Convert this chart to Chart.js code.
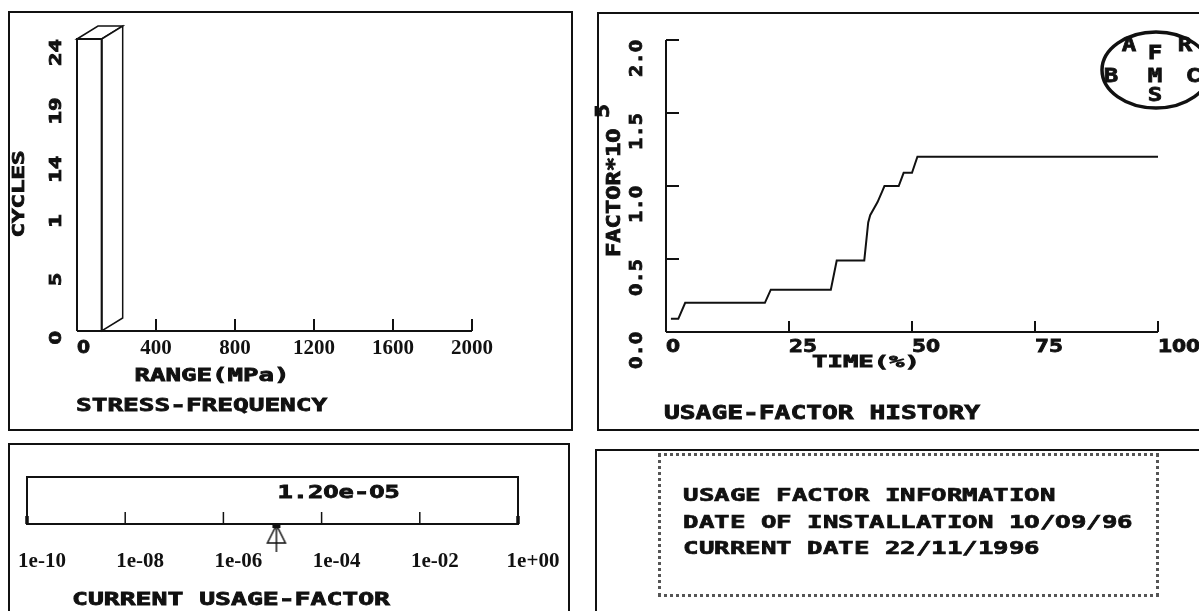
<!DOCTYPE html>
<html>
<head>
<meta charset="utf-8">
<script src="https://cdn.jsdelivr.net/npm/chart.js@4.4.0/dist/chart.umd.min.js"></script>
<style>
  html, body { margin: 0; padding: 0; background: #fff; }
  #page { position: relative; width: 1199px; height: 611px; overflow: hidden; background: #fff; }
  .panel { position: absolute; border: 2px solid #111; box-sizing: border-box; }
  .layer { position: absolute; left: 0; top: 0; }
  .dos { position: absolute; white-space: pre; font: bold 18px "DejaVu Sans Mono"; line-height: 20px;
         color: #111; -webkit-text-stroke: 0.7px #111; }
  .dos span { display: inline-block; width: 15.5px; text-align: center; transform: scaleX(1.43); }
  .dos span.z { font-family: "DejaVu Sans"; transform: scaleX(1.25); }
  #info { position: absolute; left: 658px; top: 453px; width: 501px; height: 144px;
          border: 3px dotted #555; box-sizing: border-box; }
</style>
</head>
<body>
<div id="page">
  <div class="panel" style="left:8px;top:11px;width:565px;height:420px"></div>
  <div class="panel" style="left:597px;top:12px;width:700px;height:419px"></div>
  <div class="panel" style="left:8px;top:443px;width:562px;height:300px"></div>
  <div class="panel" style="left:595px;top:449px;width:700px;height:300px"></div>
  <div id="info"></div>
  <canvas id="stress" class="layer" width="1199" height="611"></canvas>
  <canvas id="history" class="layer" width="1199" height="611"></canvas>
  <canvas id="gauge" class="layer" width="1199" height="611"></canvas>
</div>
<script>
// stress-frequency histogram
const rangeTicks = [0, 400, 800, 1200, 1600, 2000];
const cycleTicks = [0, 4.8, 9.6, 14.4, 19.2, 24];
const cycleTickLabels = ['0', '5', '1', '14', '19', '24'];
const binStart = [0];
const binEnd = [125];
const binCycles = [24];

// usage-factor history (factor * 10^5 against % of time)
const timePct = [1.0, 2.5, 3.9, 20.1, 21.3, 33.5, 34.7, 40.3, 41.1, 41.5, 43.0, 43.9, 44.4, 47.3, 48.3, 50.0, 51.1, 100];
const factorE5 = [0.09, 0.09, 0.2, 0.2, 0.29, 0.29, 0.49, 0.49, 0.75, 0.8, 0.89, 0.96, 1.0, 1.0, 1.09, 1.09, 1.2, 1.2];
const timeTicks = [0, 25, 50, 75, 100];
const factorTicks = [0, 0.5, 1.0, 1.5, 2.0];

// current usage factor gauge
const gaugeTicks = [1e-10, 1e-8, 1e-6, 1e-4, 1e-2, 1];
const currentFactor = 1.2e-5;

const infoLines = ['USAGE FACTOR INFORMATION', 'DATE OF INSTALLATION 10/09/96', 'CURRENT DATE 22/11/1996'];

const INK = '#111';

function expo(v, digits) {
  const e = Math.floor(Math.log10(v) + 1e-9);
  const m = v / Math.pow(10, e);
  return m.toFixed(digits) + 'e' + (e < 0 ? '-' : '+') + String(Math.abs(e)).padStart(2, '0');
}

// old DOS screen font: heavy mono glyphs stretched to fill one wide cell each
function dosText(ctx, text, x, y, o) {
  ctx.save();
  ctx.translate(x, y);
  if (o.rot) ctx.rotate(o.rot);
  ctx.textBaseline = 'middle';
  ctx.fillStyle = INK;
  ctx.strokeStyle = INK;
  if (o.font) {
    ctx.font = o.font;
    ctx.textAlign = o.align || 'left';
    ctx.fillText(text, 0, 0);
  } else {
    ctx.textAlign = 'center';
    ctx.lineWidth = 0.8;
    const sx = o.adv / (0.602 * o.size);
    const w = text.length * o.adv;
    let x0 = o.align === 'center' ? -w / 2 : o.align === 'right' ? -w : 0;
    for (const ch of text) {
      const zero = ch === '0';
      ctx.save();
      ctx.translate(x0 + o.adv / 2, 0);
      ctx.scale(zero ? sx * 0.87 : sx, 1);
      ctx.font = 'bold ' + o.size + 'px ' + (zero ? '"DejaVu Sans"' : '"DejaVu Sans Mono"');
      ctx.fillText(ch, 0, 0);
      ctx.strokeText(ch, 0, 0);
      ctx.restore();
      x0 += o.adv;
    }
  }
  ctx.restore();
}

function line(ctx, x1, y1, x2, y2) {
  ctx.beginPath(); ctx.moveTo(x1, y1); ctx.lineTo(x2, y2); ctx.stroke();
}

function poly(ctx, pts) {
  ctx.beginPath();
  pts.forEach((p, i) => i ? ctx.lineTo(p[0], p[1]) : ctx.moveTo(p[0], p[1]));
  ctx.closePath(); ctx.fill(); ctx.stroke();
}

const common = {
  responsive: false,
  animation: false,
  events: [],
  plugins: { legend: { display: false }, tooltip: { enabled: false } }
};

// ---------- STRESS-FREQUENCY ----------
const DX = 21, DY = 13;
const barOutline = [];
binStart.forEach((s, i) => {
  barOutline.push({ x: s, y: 0 }, { x: s, y: binCycles[i] }, { x: binEnd[i], y: binCycles[i] }, { x: binEnd[i], y: 0 });
});

const stressPlugin = {
  id: 'stress',
  beforeDatasetsDraw(chart) {
    const { ctx, scales: { x, y } } = chart;
    const y0 = y.getPixelForValue(0);
    ctx.save();
    ctx.lineWidth = 2; ctx.strokeStyle = INK; ctx.fillStyle = '#fff';
    line(ctx, x.getPixelForValue(rangeTicks[0]), y0, x.getPixelForValue(rangeTicks[rangeTicks.length - 1]), y0);
    rangeTicks.slice(1).forEach(v => {
      const px = x.getPixelForValue(v);
      line(ctx, px, y0, px, y0 - 12);
    });
    ctx.lineWidth = 1.5;
    binStart.forEach((s, i) => {
      const x0 = x.getPixelForValue(s), x1 = x.getPixelForValue(binEnd[i]);
      const yt = y.getPixelForValue(binCycles[i]);
      poly(ctx, [[x0, yt], [x0 + DX, yt - DY], [x1 + DX, yt - DY], [x1, yt]]);
      poly(ctx, [[x1, yt], [x1 + DX, yt - DY], [x1 + DX, y0 - DY], [x1, y0]]);
    });
    ctx.restore();
  },
  afterDraw(chart) {
    const { ctx, scales: { x, y } } = chart;
    cycleTicks.forEach((v, i) => {
      dosText(ctx, cycleTickLabels[i], 57, y.getPixelForValue(v), { size: 16, adv: 13.5, align: 'right', rot: -Math.PI / 2 });
    });
    rangeTicks.forEach(v => {
      if (v === 0) {
        dosText(ctx, '0', x.getPixelForValue(v), 349, { size: 17, adv: 13 });
      } else {
        dosText(ctx, String(v), x.getPixelForValue(v), 349, { font: 'bold 21px "Liberation Serif"', align: 'center' });
      }
    });
    dosText(ctx, 'CYCLES', 20, 194, { size: 15, adv: 14.5, align: 'center', rot: -Math.PI / 2 });
    dosText(ctx, 'RANGE(MPa)', 212, 376, { size: 18, adv: 15.5, align: 'center' });
    dosText(ctx, 'STRESS-FREQUENCY', 76, 406, { size: 18, adv: 15.7 });
  }
};

new Chart(document.getElementById('stress'), {
  type: 'line',
  data: {
    datasets: [{
      data: barOutline,
      borderColor: INK, borderWidth: 2, pointRadius: 0, tension: 0, fill: false, clip: false
    }]
  },
  options: Object.assign({}, common, {
    layout: { padding: { left: 77, top: 39, right: 1199 - 472, bottom: 611 - 331 } },
    scales: {
      x: { type: 'linear', display: false, min: 0, max: 2000 },
      y: { type: 'linear', display: false, min: 0, max: 24 }
    }
  }),
  plugins: [stressPlugin]
});

// ---------- USAGE-FACTOR HISTORY ----------
const historyPlugin = {
  id: 'history',
  beforeDatasetsDraw(chart) {
    const { ctx, scales: { x, y } } = chart;
    const x0 = x.getPixelForValue(0), y0 = y.getPixelForValue(0);
    ctx.save();
    ctx.lineWidth = 2; ctx.strokeStyle = INK;
    line(ctx, x0, y.getPixelForValue(factorTicks[factorTicks.length - 1]), x0, y0);
    line(ctx, x0, y0, x.getPixelForValue(timeTicks[timeTicks.length - 1]), y0);
    factorTicks.slice(1).forEach(v => {
      const py = y.getPixelForValue(v);
      line(ctx, x0, py, x0 + 13, py);
    });
    timeTicks.slice(1).forEach(v => {
      const px = x.getPixelForValue(v);
      line(ctx, px, y0, px, y0 - 11);
    });
    ctx.restore();
  },
  afterDraw(chart) {
    const { ctx, scales: { x, y } } = chart;
    factorTicks.forEach(v => {
      dosText(ctx, v.toFixed(1), 637, y.getPixelForValue(v), { size: 18, adv: 12.3, align: 'right', rot: -Math.PI / 2 });
    });
    timeTicks.forEach(v => {
      dosText(ctx, String(v), x.getPixelForValue(v), 348, { size: 17, adv: 14 });
    });
    dosText(ctx, 'FACTOR*10', 615, 257, { size: 19, adv: 14.3, rot: -Math.PI / 2 });
    dosText(ctx, '5', 604, 118, { size: 20, adv: 14, rot: -Math.PI / 2 });
    dosText(ctx, 'TIME(%)', 866, 363, { size: 16, adv: 15.4, align: 'center' });
    dosText(ctx, 'USAGE-FACTOR HISTORY', 664, 414, { size: 19, adv: 15.8 });

    // FMS logo
    ctx.save();
    ctx.lineWidth = 3.5; ctx.strokeStyle = INK;
    ctx.beginPath(); ctx.ellipse(1156, 70, 54, 38, 0, 0, Math.PI * 2); ctx.stroke();
    ctx.restore();
    [['A', 1129, 46], ['F', 1155, 54], ['R', 1185, 46], ['B', 1111, 77], ['M', 1155, 77], ['C', 1193, 77], ['S', 1155, 96]]
      .forEach(l => dosText(ctx, l[0], l[1], l[2], { size: 20, adv: 14.5, align: 'center' }));
  }
};

new Chart(document.getElementById('history'), {
  type: 'line',
  data: {
    datasets: [{
      data: timePct.map((t, i) => ({ x: t, y: factorE5[i] })),
      borderColor: INK, borderWidth: 2, pointRadius: 0, tension: 0, fill: false
    }]
  },
  options: Object.assign({}, common, {
    layout: { padding: { left: 666, top: 40, right: 1199 - 1158, bottom: 611 - 332 } },
    scales: {
      x: { type: 'linear', display: false, min: 0, max: 100 },
      y: { type: 'linear', display: false, min: 0, max: 2 }
    }
  }),
  plugins: [historyPlugin]
});

// ---------- CURRENT USAGE-FACTOR ----------
function arrowMarker() {
  const c = document.createElement('canvas');
  c.width = 24; c.height = 60;
  const g = c.getContext('2d');
  g.strokeStyle = INK; g.fillStyle = '#fff'; g.lineWidth = 1.5;
  g.beginPath(); g.moveTo(12, 31); g.lineTo(3, 49); g.lineTo(21, 49); g.closePath(); g.fill(); g.stroke();
  g.beginPath(); g.moveTo(12, 31); g.lineTo(12, 58); g.stroke();
  g.fillStyle = INK; g.fillRect(8, 30, 8, 4);
  return c;
}

const gaugePlugin = {
  id: 'gauge',
  beforeDatasetsDraw(chart) {
    const { ctx, chartArea: a, scales: { x } } = chart;
    ctx.save();
    ctx.strokeStyle = INK; ctx.lineWidth = 2;
    ctx.strokeRect(a.left, a.top, a.right - a.left, a.bottom - a.top);
    gaugeTicks.forEach((v, i) => {
      const px = x.getPixelForValue(v);
      const end = i === 0 || i === gaugeTicks.length - 1;
      ctx.lineWidth = end ? 3.5 : 1.5;
      line(ctx, px, a.bottom, px, a.bottom - (end ? 8 : 12));
    });
    ctx.restore();
  },
  afterDraw(chart) {
    const { ctx, scales: { x } } = chart;
    gaugeTicks.forEach(v => {
      dosText(ctx, expo(v, 0), x.getPixelForValue(v) + 15, 562, { font: 'bold 21px "Liberation Serif"', align: 'center' });
    });
    dosText(ctx, expo(currentFactor, 2), x.getPixelForValue(currentFactor) + 1, 493, { size: 18, adv: 15.3 });
    dosText(ctx, 'CURRENT USAGE-FACTOR', 72, 600, { size: 18, adv: 15.9 });
  }
};

new Chart(document.getElementById('gauge'), {
  type: 'scatter',
  data: {
    datasets: [{
      data: [{ x: currentFactor, y: 0 }],
      pointStyle: arrowMarker(), pointRadius: 6, clip: false
    }]
  },
  options: Object.assign({}, common, {
    layout: { padding: { left: 27, top: 477, right: 1199 - 518, bottom: 611 - 524 } },
    scales: {
      x: { type: 'logarithmic', display: false, min: gaugeTicks[0], max: gaugeTicks[gaugeTicks.length - 1] },
      y: { type: 'linear', display: false, min: 0, max: 1 }
    }
  }),
  plugins: [gaugePlugin]
});

// ---------- INFO BOX ----------
const lineY = [485, 512, 538];
infoLines.forEach((t, i) => {
  const d = document.createElement('div');
  d.className = 'dos';
  d.style.left = '683px';
  d.style.top = lineY[i] + 'px';
  for (const ch of t) {
    const s = document.createElement('span');
    if (ch === '0') s.className = 'z';
    s.textContent = ch;
    d.appendChild(s);
  }
  document.getElementById('page').appendChild(d);
});
</script>
</body>
</html>
